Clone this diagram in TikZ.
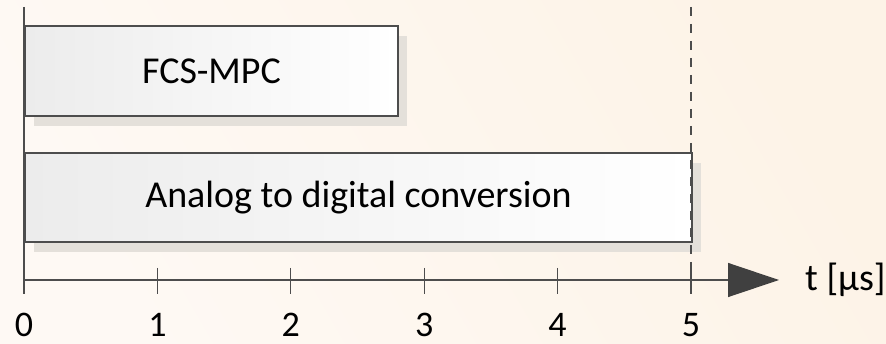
\documentclass[tikz,border=0pt]{standalone}
\usepackage{fontspec}
\setmainfont{Carlito}
\usetikzlibrary{arrows.meta,shadows}
\definecolor{bgA}{HTML}{FEF9F4}
\definecolor{bgB}{HTML}{FDF3E7}
\definecolor{linec}{HTML}{4D4D4D}
\definecolor{arrowc}{HTML}{404040}
\definecolor{shadowc}{HTML}{E4E0DA}
\definecolor{boxL}{HTML}{ECECEC}
\begin{document}
\begin{tikzpicture}[x=1pt,y=-1pt,
  taskbox/.style={draw=linec, line width=2pt, rectangle, anchor=north west,
    left color=boxL, right color=white, inner sep=0pt,
    general shadow={fill=shadowc, shadow xshift=9pt, shadow yshift=-10pt},
    font=\fontsize{38}{42}\selectfont},
  axisline/.style={draw=linec, line width=1.3pt},
  tick/.style={draw=linec, line width=1.3pt},
  ticklabel/.style={font=\fontsize{36}{38}\selectfont, text=black, inner sep=0pt, anchor=base},
]
\shade[left color=bgA, right color=bgB, shading angle=120] (0,0) rectangle (886,344);
\useasboundingbox (0,0) rectangle (886,344);

% boxes
\node[taskbox, minimum width=373pt, minimum height=90pt] (fcs) at (24,25) {FCS-MPC};
\node[taskbox, minimum width=667pt, minimum height=89pt] (adc) at (24,152) {Analog to digital conversion};

% axes
\coordinate (top) at (24,7);
\coordinate (o) at (24,280);
\coordinate (ob) at (24,294);
\coordinate (xe) at (779,280);
\draw[axisline] (top) -- (ob);
\draw[axisline, -{Triangle[length=51pt,width=34pt,color=arrowc]}] (o) -- (xe);
\node[anchor=west, font=\fontsize{38}{42}\selectfont, inner sep=0pt] (tl) at (805,280) {t [µs]};

% dashed line at t=5
\coordinate (d1) at (691,7);
\coordinate (d2) at (691,294);
\draw[draw=linec, line width=1.3pt, dash pattern=on 9pt off 8pt] (d1) -- (d2);

% ticks and labels
\foreach \i/\x in {0/24,1/157.4,2/290.8,3/424.2,4/557.6,5/691}{
  \coordinate (t\i a) at (\x,268);
  \coordinate (t\i b) at (\x,294);
  \draw[tick] (t\i a) -- (t\i b);
  \node[ticklabel] (n\i) at (\x,336.5) {\i};
}
\end{tikzpicture}
\end{document}
